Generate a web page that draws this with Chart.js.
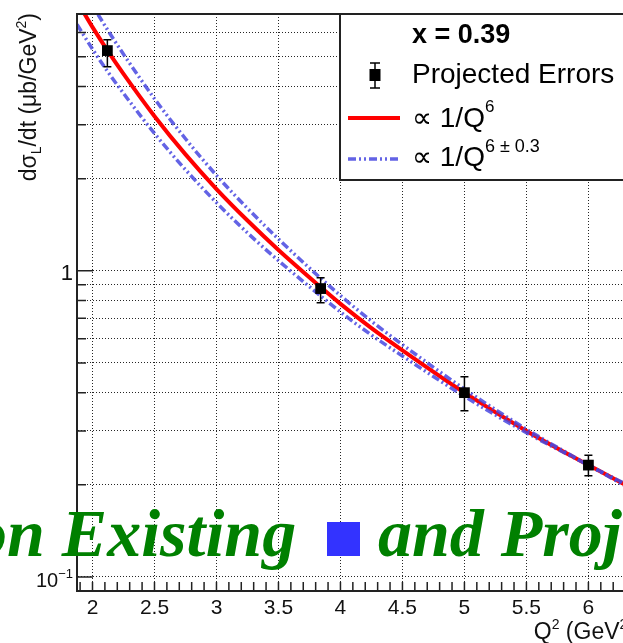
<!DOCTYPE html>
<html>
<head>
<meta charset="utf-8">
<title>dsigma_L/dt vs Q2</title>
<script src="https://cdn.jsdelivr.net/npm/chart.js@4.4.0/dist/chart.umd.min.js"></script>
<style>
    html, body { margin: 0; padding: 0; background: #fff; overflow: hidden; }
    #wrap { position: relative; width: 623px; height: 643px; overflow: hidden; }
    #xsChart { position: absolute; left: 0; top: 0; }
    .banner {
        position: absolute;
        font: italic bold 68px "Liberation Serif", "Times New Roman", serif;
        line-height: 68px;
        color: #008000;
        white-space: nowrap;
    }
    .square { position: absolute; background: #3333ff; }
</style>
</head>
<body>
<div id="wrap">
    <canvas id="xsChart" width="700" height="643"></canvas>
    <div class="banner" style="left:-27px; top:499px;">on Existing</div>
    <div class="square" style="left:327px; top:522px; width:33px; height:34px;"></div>
    <div class="banner" style="left:378px; top:499px;">and Proj</div>
</div>
<script>
// Projected points (x = 0.39)
const q2Points = [2.12, 3.84, 5.0, 6.0];
const dsdtPoints = [5.24, 0.875, 0.40, 0.232];
const errLow = [4.64, 0.786, 0.349, 0.214];
const errHigh = [5.69, 0.949, 0.451, 0.250];

// Curves
const q2Curve = [1.875, 2.0, 2.12, 2.25, 2.5, 2.75, 3.0, 3.25, 3.5, 3.84, 4.0, 4.25, 4.5, 5.0, 5.5, 6.0, 6.4];
const fitQ6 = [7.6, 6.25, 5.25, 4.4, 3.2, 2.4, 1.85, 1.46, 1.17, 0.885, 0.78, 0.65, 0.55, 0.40, 0.30, 0.232, 0.19];
const fitUpper = [9.05, 7.37, 6.14, 5.10, 3.65, 2.70, 2.05, 1.60, 1.27, 0.946, 0.83, 0.685, 0.574, 0.411, 0.304, 0.232, 0.188];
const fitLower = [6.38, 5.30, 4.49, 3.80, 2.81, 2.14, 1.67, 1.33, 1.08, 0.828, 0.734, 0.617, 0.527, 0.389, 0.296, 0.232, 0.192];

// Axes
const xGrid = [2, 2.5, 3, 3.5, 4, 4.5, 5, 5.5, 6];
const xTickLabels = ['2', '2.5', '3', '3.5', '4', '4.5', '5', '5.5', '6'];
const yGrid = [0.1, 0.2, 0.3, 0.4, 0.5, 0.6, 0.7, 0.8, 0.9, 1, 2, 3, 4, 5, 6];

const SANS = '"Liberation Sans", Arial, Helvetica, sans-serif';
const BLUE = 'rgba(72, 72, 225, 0.85)';
const DASH_DOT_DOT = [8, 3, 2, 3, 2, 3];

function toXY(xs, ys) {
    return xs.map((x, i) => ({ x: x, y: ys[i] }));
}

function richWidth(ctx, parts) {
    let w = 0;
    parts.forEach(p => {
        ctx.font = p.font;
        w += ctx.measureText(p.text).width;
    });
    return w;
}

function drawRich(ctx, parts, x, y) {
    parts.forEach(p => {
        ctx.font = p.font;
        ctx.fillText(p.text, x, y + (p.dy || 0));
        x += ctx.measureText(p.text).width;
    });
}

// ROOT-like frame, inner ticks, labels, titles, error bars and legend
const rootStyle = {
    id: 'rootStyle',
    afterDatasetsDraw(chart) {
        const ctx = chart.ctx;
        const xs = chart.scales.x, ys = chart.scales.y;
        const area = chart.chartArea;
        ctx.save();
        ctx.beginPath();
        ctx.rect(area.left, area.top, area.right - area.left, area.bottom - area.top);
        ctx.clip();
        ctx.strokeStyle = '#000';
        ctx.lineWidth = 1.5;
        q2Points.forEach((q, i) => {
            const px = xs.getPixelForValue(q);
            const lo = ys.getPixelForValue(errLow[i]);
            const hi = ys.getPixelForValue(errHigh[i]);
            ctx.beginPath();
            ctx.moveTo(px, lo); ctx.lineTo(px, hi);
            ctx.moveTo(px - 4, lo); ctx.lineTo(px + 4, lo);
            ctx.moveTo(px - 4, hi); ctx.lineTo(px + 4, hi);
            ctx.stroke();
        });
        ctx.restore();
    },
    afterDraw(chart) {
        const ctx = chart.ctx;
        const xs = chart.scales.x, ys = chart.scales.y;
        const a = chart.chartArea;
        ctx.save();

        // frame
        ctx.strokeStyle = '#222';
        ctx.lineWidth = 2;
        ctx.strokeRect(a.left, a.top, a.right - a.left, a.bottom - a.top);

        // ticks inside the frame
        ctx.lineWidth = 1.5;
        ctx.beginPath();
        for (let k = 19; k <= 64; k++) {
            const px = xs.getPixelForValue(k / 10);
            ctx.moveTo(px, a.bottom);
            ctx.lineTo(px, a.bottom - 9);
        }
        yGrid.forEach(v => {
            const py = ys.getPixelForValue(v);
            const len = (v === 1 || v === 0.1) ? 16 : 9;
            ctx.moveTo(a.left, py);
            ctx.lineTo(a.left + len, py);
        });
        ctx.stroke();

        // tick labels
        ctx.fillStyle = '#111';
        ctx.font = `21px ${SANS}`;
        ctx.textAlign = 'center';
        ctx.textBaseline = 'alphabetic';
        xGrid.forEach((v, i) => {
            ctx.fillText(xTickLabels[i], xs.getPixelForValue(v), 614);
        });
        ctx.textAlign = 'right';
        ctx.font = `22px ${SANS}`;
        ctx.fillText('1', a.left - 4, ys.getPixelForValue(1) + 9);
        ctx.textAlign = 'left';
        const decadeParts = [
            { text: '10', font: `20px ${SANS}` },
            { text: '\u22121', font: `13px ${SANS}`, dy: -9 }
        ];
        const dw = richWidth(ctx, decadeParts);
        drawRich(ctx, decadeParts, a.left - 4 - dw, ys.getPixelForValue(0.1) + 10);

        // axis titles
        const xTitle = [
            { text: 'Q', font: `23px ${SANS}` },
            { text: '2', font: `14px ${SANS}`, dy: -10 },
            { text: ' (GeV', font: `23px ${SANS}` },
            { text: '2', font: `14px ${SANS}`, dy: -10 },
            { text: ')', font: `23px ${SANS}` }
        ];
        drawRich(ctx, xTitle, a.right - 3 - richWidth(ctx, xTitle), 639);

        const yTitle = [
            { text: 'd\u03c3', font: `23px ${SANS}` },
            { text: 'L', font: `14px ${SANS}`, dy: 5 },
            { text: '/dt (\u03bcb/GeV', font: `23px ${SANS}` },
            { text: '2', font: `14px ${SANS}`, dy: -10 },
            { text: ')', font: `23px ${SANS}` }
        ];
        ctx.save();
        ctx.translate(36, a.top - 1);
        ctx.rotate(-Math.PI / 2);
        drawRich(ctx, yTitle, -richWidth(ctx, yTitle), 0);
        ctx.restore();

        // legend box
        const lx = 340, ly = a.top, lb = 180;
        ctx.fillStyle = '#fff';
        ctx.fillRect(lx, ly, a.right - lx, lb - ly);
        ctx.strokeStyle = '#222';
        ctx.lineWidth = 2;
        ctx.strokeRect(lx, ly, a.right - lx, lb - ly);

        ctx.fillStyle = '#000';
        ctx.font = `bold 27px ${SANS}`;
        ctx.fillText('x = 0.39', 412, 43);

        // marker entry
        ctx.strokeStyle = '#000';
        ctx.lineWidth = 1.5;
        ctx.beginPath();
        ctx.moveTo(375, 63); ctx.lineTo(375, 88);
        ctx.moveTo(370, 63); ctx.lineTo(380, 63);
        ctx.moveTo(370, 88); ctx.lineTo(380, 88);
        ctx.stroke();
        ctx.fillRect(369.5, 69, 11, 12);
        ctx.font = `28px ${SANS}`;
        ctx.fillText('Projected Errors', 412, 83);

        // red curve entry
        ctx.strokeStyle = '#ff0000';
        ctx.lineWidth = 4;
        ctx.beginPath();
        ctx.moveTo(348, 118); ctx.lineTo(400, 118);
        ctx.stroke();
        drawRich(ctx, [
            { text: '\u221d 1/Q', font: `28px ${SANS}` },
            { text: '6', font: `17px ${SANS}`, dy: -15 }
        ], 412, 127);

        // blue band entry
        ctx.strokeStyle = BLUE;
        ctx.lineWidth = 3.5;
        ctx.setLineDash(DASH_DOT_DOT);
        ctx.beginPath();
        ctx.moveTo(348, 159); ctx.lineTo(400, 159);
        ctx.stroke();
        ctx.setLineDash([]);
        drawRich(ctx, [
            { text: '\u221d 1/Q', font: `28px ${SANS}` },
            { text: '6 \u00b1 0.3', font: `18px ${SANS}`, dy: -14 }
        ], 412, 166);

        ctx.restore();
    }
};

const ctx = document.getElementById('xsChart').getContext('2d');
const xsChart = new Chart(ctx, {
    type: 'line',
    data: {
        datasets: [
            {
                label: 'Projected Errors',
                data: toXY(q2Points, dsdtPoints),
                showLine: false,
                pointStyle: 'rect',
                pointRadius: 7.6,
                pointBackgroundColor: '#000',
                pointBorderWidth: 0,
                order: 0
            },
            {
                label: '1/Q^(6+0.3)',
                data: toXY(q2Curve, fitUpper),
                borderColor: BLUE,
                borderWidth: 3.5,
                borderDash: DASH_DOT_DOT,
                pointRadius: 0,
                cubicInterpolationMode: 'monotone',
                clip: 0,
                order: 1
            },
            {
                label: '1/Q^(6-0.3)',
                data: toXY(q2Curve, fitLower),
                borderColor: BLUE,
                borderWidth: 3.5,
                borderDash: DASH_DOT_DOT,
                pointRadius: 0,
                cubicInterpolationMode: 'monotone',
                clip: 0,
                order: 1
            },
            {
                label: '1/Q^6',
                data: toXY(q2Curve, fitQ6),
                borderColor: '#ff0000',
                borderWidth: 4,
                pointRadius: 0,
                cubicInterpolationMode: 'monotone',
                clip: 0,
                order: 2
            }
        ]
    },
    options: {
        responsive: false,
        animation: false,
        events: [],
        layout: { padding: { left: 77, top: 14, right: 62, bottom: 52 } },
        plugins: {
            legend: { display: false },
            tooltip: { enabled: false }
        },
        scales: {
            x: {
                type: 'linear',
                min: 1.875,
                max: 6.4,
                afterBuildTicks: scale => { scale.ticks = xGrid.map(v => ({ value: v })); },
                ticks: { display: false },
                grid: { color: 'rgba(0,0,0,0.85)', lineWidth: 1, drawTicks: false },
                border: { display: true, color: '#222', width: 2, dash: [1, 2] }
            },
            y: {
                type: 'logarithmic',
                min: 0.09,
                max: 6.9,
                afterBuildTicks: scale => { scale.ticks = yGrid.map(v => ({ value: v })); },
                ticks: { display: false },
                grid: { color: 'rgba(0,0,0,0.85)', lineWidth: 1, drawTicks: false },
                border: { display: true, color: '#222', width: 2, dash: [1, 2] }
            }
        }
    },
    plugins: [rootStyle]
});
</script>
</body>
</html>
